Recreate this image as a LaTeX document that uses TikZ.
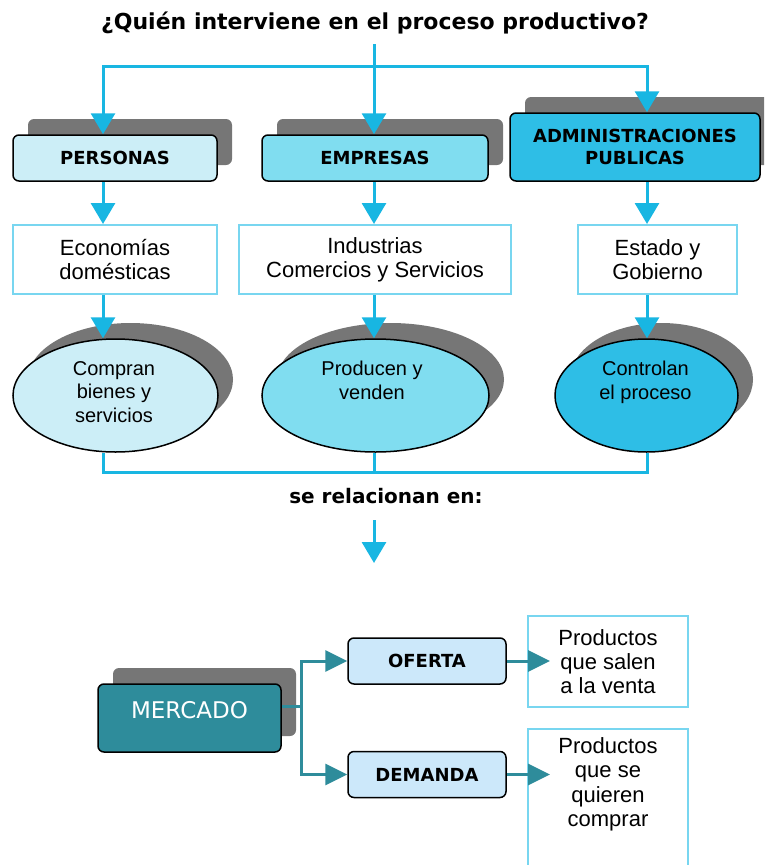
\documentclass[tikz,border=0pt]{standalone}
\usepackage{fontspec}
\setmainfont{Liberation Sans}
\newfontfamily\verdana{DejaVu Sans}
\usetikzlibrary{arrows.meta,shapes.geometric,shadows}

\definecolor{azul}{RGB}{24,182,226}
\definecolor{celeste}{RGB}{204,238,247}
\definecolor{turquesa}{RGB}{128,221,240}
\definecolor{cian}{RGB}{46,190,230}
\definecolor{sombra}{RGB}{118,118,118}
\definecolor{borde}{RGB}{120,214,240}
\definecolor{petroleo}{RGB}{46,140,155}
\definecolor{palido}{RGB}{204,232,250}

\tikzset{
  sombreado/.style={drop shadow={shadow xshift=15pt,shadow yshift=16pt,opacity=1,fill=sombra}},
  tramo/.style={draw=azul,line width=3pt},
  flecha/.style={draw=azul,line width=3pt,-{Triangle[width=24pt,length=21pt]}},
  tramoM/.style={draw=petroleo,line width=3pt},
  flechaM/.style={draw=petroleo,line width=3pt,-{Triangle[width=21pt,length=22pt]}},
}

\begin{document}
\begin{tikzpicture}[x=1pt,y=-1pt]
      \useasboundingbox (0,0) rectangle (764,865);
      \clip (0,0) rectangle (764,865);

      \node[anchor=base,font=\verdana\bfseries\fontsize{22pt}{26pt}\selectfont] (1) at (375,29) {¿Quién interviene en el proceso productivo?};

      \begin{scope}[every node/.style={draw,line width=1.5pt,rounded corners=6pt,sombreado,inner sep=0pt,align=center,minimum height=46pt,font=\verdana\bfseries\fontsize{18pt}{22pt}\selectfont}]
        \node[fill=celeste,minimum width=204pt]  (2) at (115,158) {PERSONAS};
        \node[fill=turquesa,minimum width=226pt] (3) at (375,158) {EMPRESAS};
        \node[fill=cian,minimum width=250pt,minimum height=68pt] (4) at (635,147) {ADMINISTRACIONES\\PUBLICAS};
      \end{scope}

      \begin{scope}[every node/.style={draw=borde,line width=2pt,fill=white,inner sep=0pt,align=center,minimum height=69pt,font=\fontsize{22pt}{24pt}\selectfont}]
        \node[minimum width=204pt] (5) at (115,259.5)   {Economías\\domésticas};
        \node[minimum width=272pt] (6) at (375,259.5)   {Industrias\\Comercios y Servicios};
        \node[minimum width=159pt] (7) at (657.5,259.5) {Estado y\\Gobierno};
      \end{scope}

      \begin{scope}[every node/.style={ellipse,draw,line width=1.5pt,sombreado,inner sep=0pt,minimum height=113pt}]
        \node[fill=celeste,minimum width=205pt]  (8)  at (115.5,395.5) {};
        \node[fill=turquesa,minimum width=227pt] (9)  at (375.5,395.5) {};
        \node[fill=cian,minimum width=183pt]     (10) at (646.5,395.5) {};
      \end{scope}

      \begin{scope}[every node/.style={anchor=north,inner sep=0pt,align=center,font=\fontsize{20pt}{23.5pt}\selectfont}]
        \node (8t)  at (114,361)   {Compran\\bienes y\\servicios};
        \node (9t)  at (372,361)   {Producen y\\venden};
        \node (10t) at (645.5,361) {Controlan\\el proceso};
      \end{scope}

      \node[anchor=base,inner sep=0pt,font=\verdana\bfseries\fontsize{20pt}{24pt}\selectfont] (11) at (386,503) {se relacionan en:};

      \begin{scope}[every node/.style={draw,line width=1.5pt,rounded corners=6pt,inner sep=0pt,align=center}]
        \node[fill=petroleo,sombreado,minimum width=183pt,minimum height=68pt,text=white,text height=12pt,text depth=12pt,font=\verdana\fontsize{23pt}{26pt}\selectfont] (12) at (189.5,718) {MERCADO};
        \node[fill=palido,minimum width=158pt,minimum height=46pt,font=\verdana\bfseries\fontsize{18pt}{22pt}\selectfont] (13) at (427,661)   {OFERTA};
        \node[fill=palido,minimum width=158pt,minimum height=46pt,font=\verdana\bfseries\fontsize{18pt}{22pt}\selectfont] (14) at (427,774.5) {DEMANDA};
      \end{scope}

      \begin{scope}[every node/.style={draw=borde,line width=2pt,inner sep=0pt,align=center,minimum width=160pt,font=\fontsize{22pt}{24pt}\selectfont}]
        \node[minimum height=91pt]  (15) at (608,661.5) {Productos\\que salen\\a la venta};
        \node[minimum height=140pt] (16) at (608,799)   {};
      \end{scope}
      \node[anchor=north,inner sep=0pt,align=center,font=\fontsize{22pt}{24.5pt}\selectfont] (16t) at (608,737) {Productos\\que se\\quieren\\comprar};

      % conectores
      \coordinate (a) at (374,44);
      \coordinate (b) at (103,66);
      \coordinate (c) at (647,66);
      \coordinate (d) at (103,472);
      \coordinate (e) at (647,472);
      \coordinate (f) at (374,472);
      \coordinate (h) at (374,520);
      \coordinate (g) at (374,563);
      \coordinate (k) at (301,706);
      \coordinate (m) at (550,661);
      \coordinate (n) at (550,774.5);

      \path[tramo,line cap=rect] (b) -- (c);
      \path (a) edge[flecha] (a |- 3.north);
      \path (b) edge[flecha] (b |- 2.north);
      \path (c) edge[flecha] (c |- 4.north);

      \path (2.south -| b) edge[flecha] (5.north -| b);
      \path (3.south -| a) edge[flecha] (6.north -| a);
      \path (4.south -| c) edge[flecha] (7.north -| c);

      \path (5.south -| b) edge[flecha] (8.north -| b);
      \path (6.south -| a) edge[flecha] (9.north -| a);
      \path (7.south -| c) edge[flecha] (10.north -| c);

      \path[tramo] (8.south -| d) -- (d) -- (e) -- (10.south -| e);
      \path[tramo] (9.south -| f) -- (f);
      \path (h) edge[flecha] (g);

      \path[tramoM] (12.east |- k) -- (k);
      \path[flechaM] (k) |- (13.west);
      \path[flechaM] (k) |- (14.west);
      \path (13) edge[flechaM] (m);
      \path (14) edge[flechaM] (n);

    \end{tikzpicture}
\end{document}
